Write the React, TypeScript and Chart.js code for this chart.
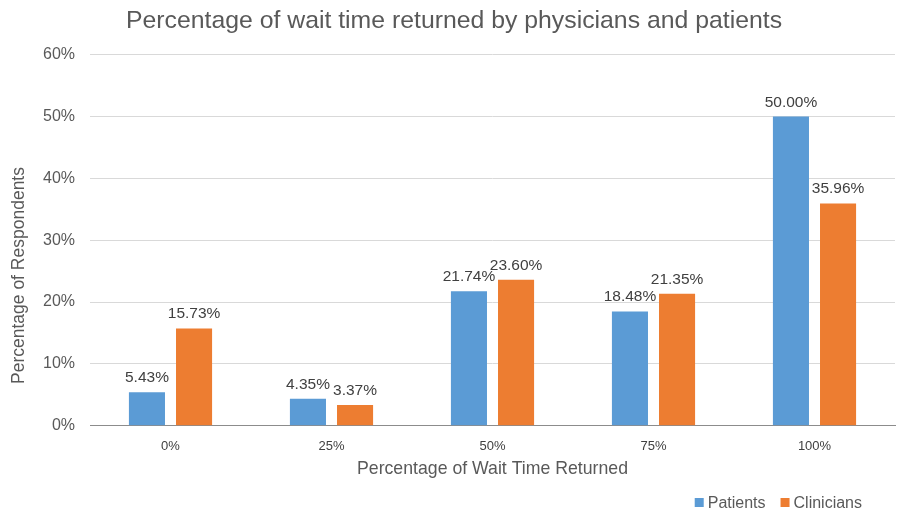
import React, { useEffect, useRef } from "react";
import { Chart, registerables } from "chart.js";

Chart.register(...registerables);

const categories = ["0%", "25%", "50%", "75%", "100%"];
const seriesNames = ["Patients", "Clinicians"];
const patients = [5.43, 4.35, 21.74, 18.48, 50.0];
const clinicians = [15.73, 3.37, 23.6, 21.35, 35.96];
const yTicks = [0, 10, 20, 30, 40, 50, 60];
const titleText = "Percentage of wait time returned by physicians and patients";
const xTitleText = "Percentage of Wait Time Returned";
const yTitleText = "Percentage of Respondents";

const FONT = "'Liberation Sans', Arial, sans-serif";
const COLORS = ["#5B9BD5", "#ED7D31"];

const valueLabels = {
  id: "valueLabels",
  afterDatasetsDraw(chart: any) {
    const ctx = chart.ctx;
    ctx.save();
    ctx.font = `15.5px ${FONT}`;
    ctx.fillStyle = "#404040";
    ctx.textAlign = "center";
    ctx.textBaseline = "alphabetic";
    chart.data.datasets.forEach((ds: any, di: number) => {
      const meta = chart.getDatasetMeta(di);
      meta.data.forEach((el: any, i: number) => {
        ctx.fillText(ds.data[i].toFixed(2) + "%", el.x, el.y - 10);
      });
    });
    ctx.restore();
  },
};

// Y axis title (placed like the reference, below the plot centre) and legend
const extras = {
  id: "extras",
  afterDraw(chart: any) {
    const ctx = chart.ctx;
    const area = chart.chartArea;
    ctx.save();
    // y title
    ctx.font = `17.5px ${FONT}`;
    ctx.fillStyle = "#595959";
    ctx.textAlign = "center";
    ctx.textBaseline = "middle";
    ctx.translate(19, area.top + (area.bottom - area.top) * 0.595);
    ctx.rotate(-Math.PI / 2);
    ctx.fillText(yTitleText, 0, 0);
    ctx.restore();

    // legend
    ctx.save();
    ctx.font = `16px ${FONT}`;
    ctx.textBaseline = "middle";
    ctx.textAlign = "left";
    const box = 9;
    const gapBoxText = 4;
    const gapItems = 15;
    const cy = chart.height - 10;
    const items = chart.data.datasets.map((ds: any) => ({
      label: ds.label,
      color: ds.backgroundColor,
      w: box + gapBoxText + ctx.measureText(ds.label).width,
    }));
    const total =
      items.reduce((s: number, it: any) => s + it.w, 0) + gapItems * (items.length - 1);
    let x = chart.width - 39 - total;
    items.forEach((it: any) => {
      ctx.fillStyle = it.color;
      ctx.fillRect(x, cy - box / 2 - 0.5, box, box);
      ctx.fillStyle = "#595959";
      ctx.fillText(it.label, x + box + gapBoxText, cy + 1);
      x += it.w + gapItems;
    });
    ctx.restore();
  },
};

export default function App() {
  const ref = useRef<HTMLCanvasElement | null>(null);
  useEffect(() => {
    document.body.style.margin = "0";
    const chart = new Chart(ref.current as HTMLCanvasElement, {
      type: "bar",
      data: {
        labels: categories,
        datasets: [
          { label: seriesNames[0], data: patients, backgroundColor: COLORS[0] },
          { label: seriesNames[1], data: clinicians, backgroundColor: COLORS[1] },
        ],
      },
      options: {
        animation: false,
        responsive: false,
        layout: { padding: { left: 13, right: 6, top: 0, bottom: 0 } },
        datasets: { bar: { categoryPercentage: 0.585, barPercentage: 0.766 } },
        plugins: {
          title: {
            display: true,
            text: titleText,
            color: "#595959",
            font: { family: FONT, size: 24.8, weight: "normal" },
            padding: { top: 6, bottom: 19 },
          },
          legend: { display: false },
          tooltip: { enabled: false },
        },
        scales: {
          x: {
            grid: { display: false },
            border: { color: "#8c8c8c" },
            ticks: {
              color: "#404040",
              font: { family: FONT, size: 13, lineHeight: 1 },
              padding: 6,
            },
            title: {
              display: true,
              text: xTitleText,
              color: "#595959",
              font: { family: FONT, size: 17.7 },
              padding: { top: 0, bottom: 33 },
            },
          },
          y: {
            min: 0,
            max: 60,
            afterBuildTicks(scale: any) {
              scale.ticks = yTicks.map((v) => ({ value: v }));
            },
            afterFit(scale: any) {
              scale.width = 77;
            },
            grid: { color: "#D9D9D9", drawTicks: false },
            border: { display: false },
            ticks: {
              color: "#595959",
              font: { family: FONT, size: 16 },
              padding: 15,
              callback: (v: any) => v + "%",
            },
          },
        },
      },
      plugins: [valueLabels, extras],
    } as any);
    return () => chart.destroy();
  }, []);
  return (
    <div style={{ width: 901, height: 513, background: "#fff" }}>
      <canvas ref={ref} width={901} height={513} />
    </div>
  );
}
